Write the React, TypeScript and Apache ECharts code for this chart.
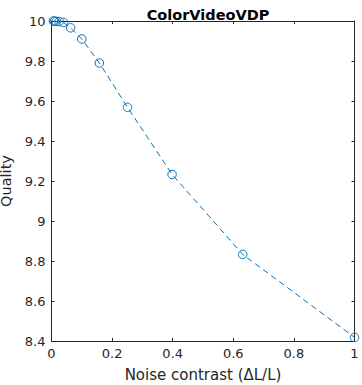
import React, { useEffect, useRef } from "react";
import * as echarts from "echarts";

const noiseContrast = [0.0063, 0.01, 0.0158, 0.0251, 0.0398, 0.0631, 0.1, 0.158, 0.251, 0.398, 0.631, 1];
const quality = [10.0, 9.999, 9.998, 9.997, 9.993, 9.966, 9.91, 9.79, 9.568, 9.233, 8.833, 8.418];
const xTicks = [0, 0.2, 0.4, 0.6, 0.8, 1];
const yTicks = [8.4, 8.6, 8.8, 9, 9.2, 9.4, 9.6, 9.8, 10];

const AX = "#262626";
const FONT = "DejaVu Sans";

export default function App() {
  const ref = useRef<HTMLDivElement>(null);
  useEffect(() => {
    const chart = echarts.init(ref.current!, null, { renderer: "svg" });
    const axisCommon = {
      axisLine: { show: true, onZero: false, lineStyle: { color: AX, width: 1 } },
      axisTick: { show: true, inside: true, length: 3, lineStyle: { color: AX } },
      splitLine: { show: false },
    };
    chart.setOption({
      animation: false,
      title: {
        text: "ColorVideoVDP",
        left: 203,
        top: 2,
        textAlign: "center",
        textStyle: { fontFamily: FONT, fontSize: 14.5, fontWeight: "bold", color: "#000" },
      },
      grid: { left: 51.5, right: 7.5, top: 21, bottom: 44, containLabel: false, outerBoundsMode: "none" },
      xAxis: [
        {
          type: "value",
          min: 0,
          max: 1,
          interval: 0.2,
          position: "bottom",
          ...axisCommon,
          axisLabel: {
            color: AX,
            fontFamily: FONT,
            fontSize: 13,
            margin: 6,
            formatter: (v: number) => (xTicks.includes(+v.toFixed(2)) ? String(+v.toFixed(2)) : ""),
          },
          name: "Noise contrast (ΔL/L)",
          nameLocation: "middle",
          nameGap: 26,
          nameTextStyle: { color: AX, fontFamily: FONT, fontSize: 15 },
        },
        {
          type: "value",
          min: 0,
          max: 1,
          interval: 0.2,
          position: "top",
          ...axisCommon,
          axisLabel: { show: false },
        },
      ],
      yAxis: [
        {
          type: "value",
          min: 8.4,
          max: 10,
          interval: 0.2,
          position: "left",
          ...axisCommon,
          axisLabel: {
            color: AX,
            fontFamily: FONT,
            fontSize: 13,
            margin: 6,
            formatter: (v: number) => {
              const r = +v.toFixed(1);
              return yTicks.includes(r) ? String(r) : "";
            },
          },
          name: "Quality",
          nameLocation: "middle",
          nameGap: 31,
          nameTextStyle: { color: AX, fontFamily: FONT, fontSize: 14.5 },
        },
        {
          type: "value",
          min: 8.4,
          max: 10,
          interval: 0.2,
          position: "right",
          ...axisCommon,
          axisLabel: { show: false },
        },
      ],
      series: [
        {
          type: "line",
          xAxisIndex: 0,
          yAxisIndex: 0,
          data: noiseContrast.map((x, i) => [x, quality[i]]),
          symbol: "circle",
          symbolSize: 8.5,
          showSymbol: true,
          clip: false,
          lineStyle: { color: "#0072BD", width: 1, type: [6, 4] },
          itemStyle: { color: "rgba(0,0,0,0)", borderColor: "#0072BD", borderWidth: 1 },
        },
      ],
    });
    return () => chart.dispose();
  }, []);
  return (
    <div
      ref={ref}
      style={{ position: "fixed", left: 0, top: 0, width: 362, height: 385, background: "#fff" }}
    />
  );
}
